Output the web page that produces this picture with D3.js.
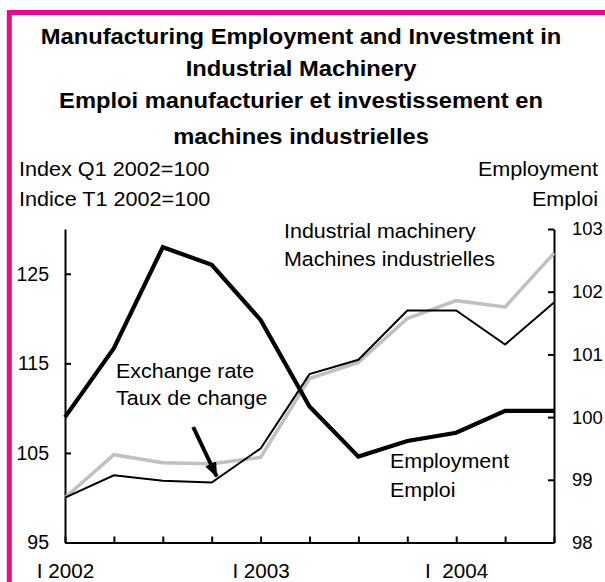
<!DOCTYPE html>
<html>
<head>
<meta charset="utf-8">
<script src="https://cdn.jsdelivr.net/npm/d3@7"></script>
<style>
  html, body { margin: 0; padding: 0; background: #fff; }
  svg { display: block; font-family: "Liberation Sans", Arial, Helvetica, sans-serif; }
</style>
</head>
<body>
<script>
// quarters, 2002 Q1 .. 2004 Q3
let quarters = ['2002Q1', '2002Q2', '2002Q3', '2002Q4', '2003Q1', '2003Q2', '2003Q3', '2003Q4', '2004Q1', '2004Q2', '2004Q3']
let xLabels = { '2002Q1': 'I 2002', '2003Q1': 'I 2003', '2004Q1': 'I  2004' }

// left axis, index Q1 2002 = 100
let exchangeRate = [100, 102.5, 101.9, 101.7, 105.5, 113.8, 115.4, 120.9, 120.9, 117.1, 121.8]
let machinery = [100, 104.8, 103.9, 103.8, 104.5, 113.3, 115.1, 120.0, 122.0, 121.3, 127.3]
// right axis
let employment = [100.0, 101.1, 102.71, 102.43, 101.55, 100.17, 99.37, 99.62, 99.75, 100.1, 100.1]

let leftTicks = [95, 105, 115, 125]
let rightTicks = [98, 99, 100, 101, 102, 103]

let titleLines = [
  'Manufacturing Employment and Investment in',
  'Industrial Machinery',
  'Emploi manufacturier et investissement en',
  'machines industrielles'
]

let W = 605, H = 582
let plot = { left: 65, right: 554, top: 229, bottom: 542.5 }

let svg = d3.select('body').append('svg')
  .attr('width', W).attr('height', H)

svg.append('rect').attr('width', W).attr('height', H).attr('fill', '#fff')

// pink frame (runs off the right and bottom edge)
svg.append('rect')
  .attr('x', 9.3).attr('y', 12.5)
  .attr('width', 700).attr('height', 700)
  .attr('fill', 'none')
  .attr('stroke', '#ea0a8c')
  .attr('stroke-width', 5)

// text helper, the source lettering is a bit wider than Arial
let label = (txt, x, y, opts) => {
  let o = Object.assign({ anchor: 'start', size: 20, sx: 1, weight: null }, opts)
  return svg.append('text')
    .attr('transform', `translate(${x},${y}) scale(${o.sx},1)`)
    .attr('text-anchor', o.anchor)
    .attr('font-size', o.size)
    .attr('font-weight', o.weight)
    .style('white-space', 'pre')
    .text(txt)
}

// title
titleLines.forEach((t, i) => {
  label(t, 301, [44, 76, 107.5, 144][i], { anchor: 'middle', size: 22.5, sx: 1.055, weight: 'bold' })
})

label('Index Q1 2002=100', 19, 176, { size: 21, sx: 1.03 })
label('Indice T1 2002=100', 19, 206, { size: 21, sx: 1.03 })
label('Employment', 598, 176, { anchor: 'end', size: 21, sx: 1.03 })
label('Emploi', 598, 206, { anchor: 'end', size: 21, sx: 1.03 })

let x = d3.scalePoint().domain(quarters).range([plot.left, plot.right])
let yL = d3.scaleLinear().domain([95, 130]).range([plot.bottom, plot.top])
let yR = d3.scaleLinear().domain([98, 103]).range([plot.bottom, plot.top])

let styleAxis = g => {
  g.select('.domain').attr('stroke', '#000').attr('stroke-width', 2)
  g.selectAll('.tick line').attr('stroke', '#000').attr('stroke-width', 2)
  g.selectAll('.tick text').attr('fill', '#000')
  g.attr('font-family', null)
}

svg.append('g')
  .attr('transform', `translate(${plot.left},0)`)
  .call(d3.axisLeft(yL).tickValues(leftTicks).tickFormat(d3.format('d'))
    .tickSizeInner(-6).tickSizeOuter(0).tickPadding(16))
  .attr('font-size', 19.5)
  .call(styleAxis)

svg.append('g')
  .attr('transform', `translate(${plot.right},0)`)
  .call(d3.axisRight(yR).tickValues(rightTicks).tickFormat(d3.format('d'))
    .tickSizeInner(-6).tickSizeOuter(0).tickPadding(18))
  .attr('font-size', 18.5)
  .call(styleAxis)

svg.append('g')
  .attr('transform', `translate(0,${plot.bottom})`)
  .call(d3.axisBottom(x).tickSizeInner(-6).tickSizeOuter(0).tickPadding(22)
    .tickFormat(q => xLabels[q] || ''))
  .attr('font-size', 19.5)
  .call(styleAxis)
  .selectAll('.tick text')
  .style('white-space', 'pre')
  .attr('transform', 'scale(1.06,1)')

let lineL = d3.line().x((d, i) => x(quarters[i])).y(d => yL(d))
let lineR = d3.line().x((d, i) => x(quarters[i])).y(d => yR(d))

svg.append('path').datum(machinery)
  .attr('d', lineL).attr('fill', 'none')
  .attr('stroke', '#c0c0c0').attr('stroke-width', 3.5)

svg.append('path').datum(exchangeRate)
  .attr('d', lineL).attr('fill', 'none')
  .attr('stroke', '#000').attr('stroke-width', 2)

svg.append('path').datum(employment)
  .attr('d', lineR).attr('fill', 'none')
  .attr('stroke', '#000').attr('stroke-width', 4.2)

// series labels
let inner = { size: 19.5, sx: 1.1 }
label('Industrial machinery', 284, 238, inner)
label('Machines industrielles', 284, 266, inner)
label('Exchange rate', 116, 378, inner)
label('Taux de change', 116, 405, inner)
label('Employment', 390, 468, inner)
label('Emploi', 390, 497, inner)

// arrow pointing at the exchange-rate line, Q4 2002
svg.append('defs').append('marker')
  .attr('id', 'head')
  .attr('markerUnits', 'userSpaceOnUse')
  .attr('viewBox', '0 0 15 12')
  .attr('refX', 14).attr('refY', 6)
  .attr('markerWidth', 15).attr('markerHeight', 12)
  .attr('orient', 'auto')
  .append('path').attr('d', 'M0,0L15,6L0,12Z').attr('fill', '#000')

let tipX = x(quarters[3]) + 5, tipY = yL(exchangeRate[3]) - 6
svg.append('line')
  .attr('x1', tipX - 23.5).attr('y1', tipY - 49.5)
  .attr('x2', tipX).attr('y2', tipY)
  .attr('stroke', '#000').attr('stroke-width', 4)
  .attr('marker-end', 'url(#head)')
</script>
</body>
</html>
